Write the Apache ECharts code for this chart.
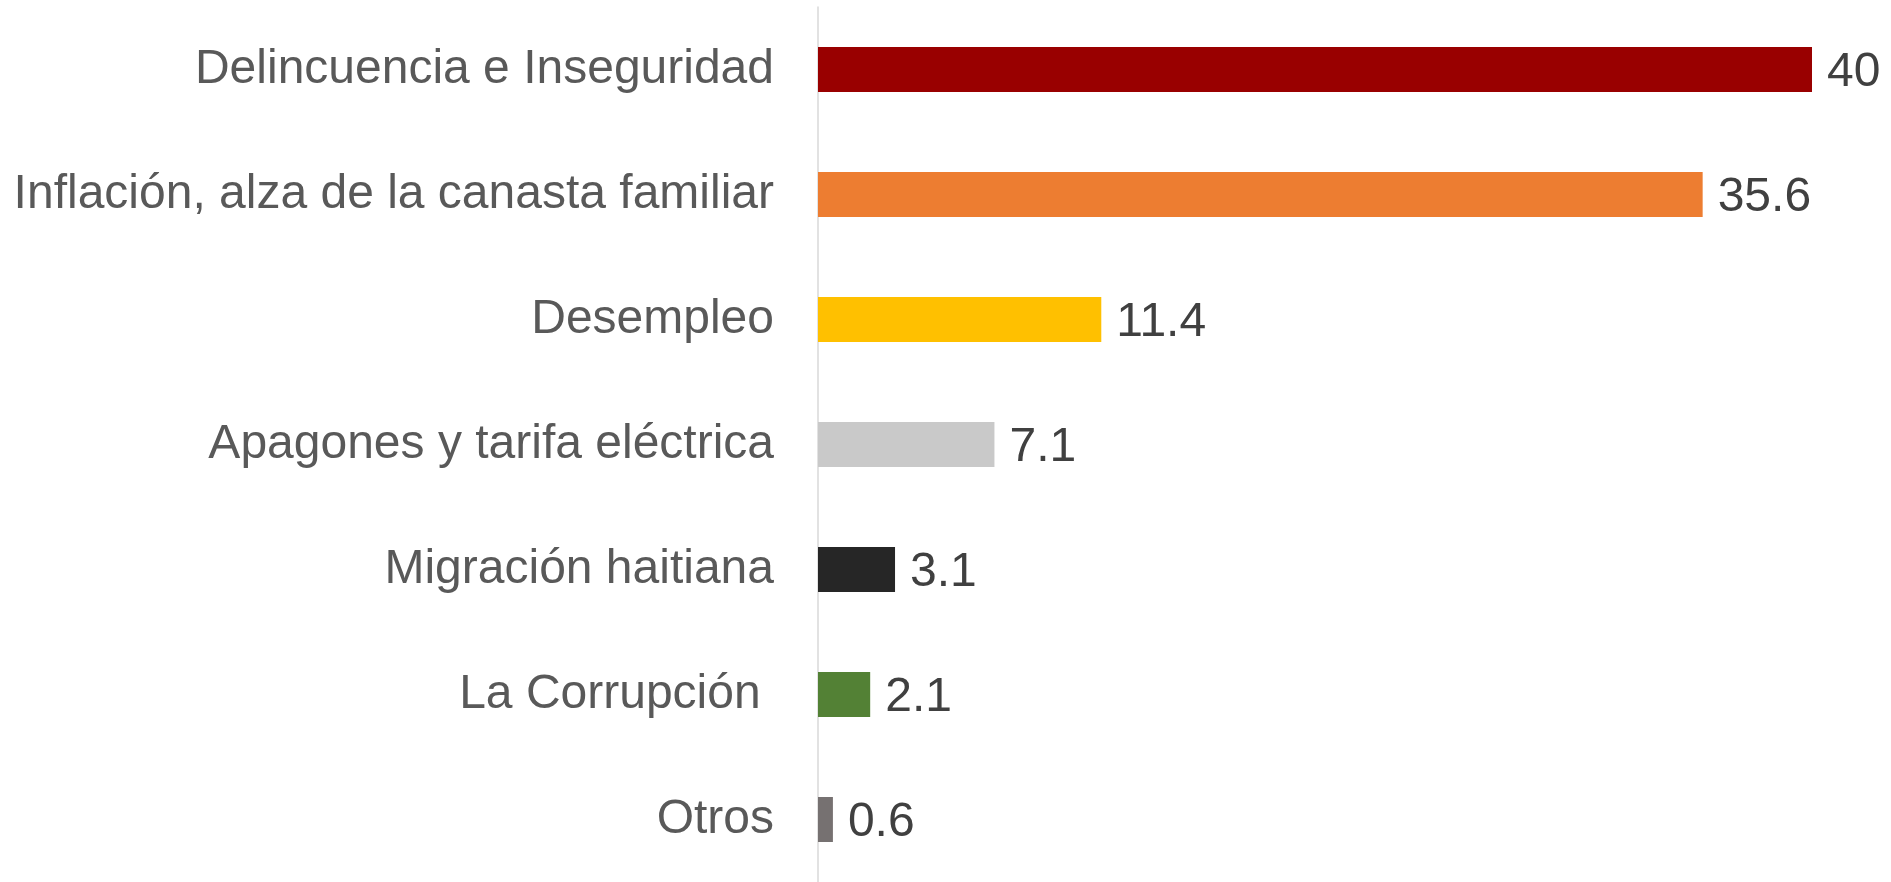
<!DOCTYPE html>
<html>
<head>
<meta charset="utf-8">
<script src="https://cdn.jsdelivr.net/npm/echarts@6/dist/echarts.min.js"></script>
<style>
  html, body { margin: 0; padding: 0; background: #fff; }
  #chart { width: 1891px; height: 882px; }
</style>
</head>
<body>
<div id="chart"></div>
<script>
const categories = [
  'Delincuencia e Inseguridad',
  'Inflación, alza de la canasta familiar',
  'Desempleo',
  'Apagones y tarifa eléctrica',
  'Migración haitiana',
  'La Corrupción ',
  'Otros',
];
const values = [40, 35.6, 11.4, 7.1, 3.1, 2.1, 0.6];
const barColors = ['#990000', '#ED7D31', '#FFC000', '#C9C9C9', '#262626', '#538135', '#767171'];

const chart = echarts.init(document.getElementById('chart'));
chart.setOption({
  animation: false,
  grid: {
    left: 818,
    width: 994,
    top: 7,
    height: 880,
  },
  xAxis: {
    type: 'value',
    min: 0,
    max: 40,
    show: false,
  },
  yAxis: {
    type: 'category',
    inverse: true,
    data: categories,
    axisTick: { show: false },
    axisLine: {
      show: true,
      lineStyle: { color: '#D9D9D9', width: 1.5 },
    },
    axisLabel: {
      margin: 44,
      padding: [3, 0, 0, 0],
      color: '#595959',
      fontSize: 48,
      fontFamily: 'Liberation Sans, Arial, sans-serif',
    },
  },
  series: [
    {
      type: 'bar',
      barWidth: 45,
      data: values.map((v, i) => ({ value: v, itemStyle: { color: barColors[i] } })),
      label: {
        show: true,
        position: 'right',
        distance: 15,
        offset: [0, 3],
        color: '#404040',
        fontSize: 48,
        fontFamily: 'Liberation Sans, Arial, sans-serif',
      },
    },
  ],
});
</script>
</body>
</html>
